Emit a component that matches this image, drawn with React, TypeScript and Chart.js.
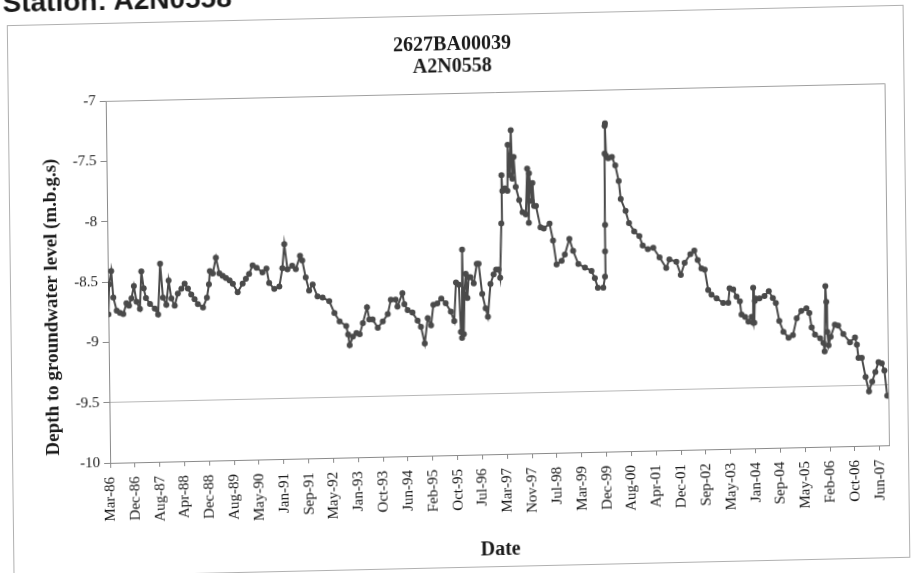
import React, { useEffect, useRef } from "react";
import { Chart, registerables } from "chart.js";

Chart.register(...registerables);

// ---- data (decimal years, depth in m.b.g.s) ----
const dates: number[] = [
  1986.23, 1986.26, 1986.32, 1986.37, 1986.46, 1986.55, 1986.64, 1986.73, 1986.80, 1986.87,
  1986.94, 1987.01, 1987.10, 1987.15, 1987.21, 1987.27, 1987.38, 1987.51, 1987.60, 1987.67,
  1987.74, 1987.83, 1987.90, 1987.97, 1988.06, 1988.15, 1988.25, 1988.34, 1988.43, 1988.52,
  1988.61, 1988.70, 1988.84, 1988.95, 1989.01, 1989.04, 1989.12, 1989.21, 1989.30, 1989.39,
  1989.48, 1989.58, 1989.67, 1989.80, 1989.94, 1990.03, 1990.12, 1990.22, 1990.33, 1990.49,
  1990.60, 1990.67, 1990.81, 1990.95, 1991.04, 1991.10, 1991.18, 1991.31, 1991.41, 1991.53,
  1991.59, 1991.68, 1991.77, 1991.87, 1992.00, 1992.14, 1992.32, 1992.46, 1992.60, 1992.78,
  1992.83, 1992.87, 1992.96, 1993.06, 1993.15, 1993.24, 1993.36, 1993.42, 1993.51, 1993.65,
  1993.79, 1993.93, 1994.02, 1994.15, 1994.20, 1994.34, 1994.39, 1994.48, 1994.61, 1994.75,
  1994.84, 1994.94, 1995.03, 1995.12, 1995.19, 1995.30, 1995.41, 1995.53, 1995.67, 1995.76,
  1995.82, 1995.90, 1995.94, 1995.97, 1996.00, 1996.02, 1996.05, 1996.09, 1996.13, 1996.17,
  1996.22, 1996.31, 1996.40, 1996.45, 1996.54, 1996.63, 1996.69, 1996.77, 1996.86, 1996.93,
  1997.00, 1997.04, 1997.09, 1997.11, 1997.13, 1997.20, 1997.27, 1997.29, 1997.34, 1997.38,
  1997.41, 1997.45, 1997.50, 1997.59, 1997.68, 1997.77, 1997.82, 1997.85, 1997.87, 1997.91,
  1997.93, 1997.96, 1998.00, 1998.05, 1998.17, 1998.26, 1998.42, 1998.51, 1998.60, 1998.74,
  1998.83, 1998.96, 1999.06, 1999.20, 1999.38, 1999.56, 1999.65, 1999.73, 1999.88, 1999.93,
  1999.94, 1999.95, 1999.96, 1999.97, 1999.98, 2000.00, 2000.06, 2000.16, 2000.25, 2000.34,
  2000.39, 2000.52, 2000.61, 2000.75, 2000.89, 2000.98, 2001.12, 2001.27, 2001.44, 2001.62,
  2001.71, 2001.90, 2002.02, 2002.13, 2002.29, 2002.40, 2002.49, 2002.59, 2002.68, 2002.77,
  2002.86, 2003.00, 2003.18, 2003.32, 2003.36, 2003.46, 2003.55, 2003.64, 2003.68, 2003.78,
  2003.87, 2003.96, 2004.00, 2004.01, 2004.03, 2004.05, 2004.07, 2004.18, 2004.32, 2004.44,
  2004.55, 2004.63, 2004.72, 2004.83, 2004.97, 2005.09, 2005.20, 2005.33, 2005.47, 2005.55,
  2005.61, 2005.70, 2005.84, 2005.93, 2005.96, 2006.00, 2006.02, 2006.04, 2006.07, 2006.13,
  2006.25, 2006.34, 2006.48, 2006.66, 2006.80, 2006.85, 2006.89, 2006.98, 2007.08, 2007.17,
  2007.26, 2007.35, 2007.44, 2007.53, 2007.60, 2007.67,
];

const levels: number[] = [
  -8.77, -8.52, -8.41, -8.63, -8.74, -8.76, -8.77, -8.68, -8.70, -8.64,
  -8.54, -8.67, -8.73, -8.42, -8.56, -8.64, -8.69, -8.73, -8.78, -8.36,
  -8.64, -8.70, -8.50, -8.65, -8.71, -8.61, -8.57, -8.53, -8.57, -8.62,
  -8.66, -8.70, -8.73, -8.65, -8.54, -8.43, -8.45, -8.32, -8.45, -8.47,
  -8.49, -8.51, -8.54, -8.61, -8.54, -8.50, -8.46, -8.39, -8.41, -8.45,
  -8.42, -8.54, -8.59, -8.57, -8.42, -8.22, -8.43, -8.40, -8.43, -8.32,
  -8.36, -8.50, -8.61, -8.56, -8.66, -8.67, -8.70, -8.80, -8.87, -8.91,
  -8.98, -9.07, -9.00, -8.97, -8.98, -8.89, -8.76, -8.86, -8.86, -8.93,
  -8.88, -8.82, -8.70, -8.70, -8.76, -8.65, -8.74, -8.79, -8.81, -8.88,
  -8.93, -9.07, -8.86, -8.92, -8.75, -8.74, -8.70, -8.74, -8.81, -8.89,
  -8.57, -8.59, -8.98, -9.03, -8.30, -9.00, -8.67, -8.50, -8.70, -8.53,
  -8.53, -8.58, -8.42, -8.42, -8.67, -8.79, -8.86, -8.59, -8.51, -8.47,
  -8.47, -8.54, -8.09, -7.69, -7.82, -7.80, -7.82, -7.44, -7.69, -7.32,
  -7.72, -7.54, -7.79, -7.90, -8.00, -8.02, -7.64, -8.09, -7.68, -7.80,
  -7.91, -7.76, -7.95, -7.95, -8.13, -8.14, -8.10, -8.24, -8.44, -8.41,
  -8.36, -8.23, -8.33, -8.44, -8.47, -8.50, -8.56, -8.64, -8.64, -8.55,
  -8.34, -8.12, -7.53, -7.30, -7.28, -7.55, -7.57, -7.56, -7.63, -7.76,
  -7.91, -8.01, -8.11, -8.18, -8.22, -8.30, -8.33, -8.32, -8.40, -8.49,
  -8.42, -8.44, -8.55, -8.45, -8.38, -8.35, -8.43, -8.50, -8.51, -8.68,
  -8.72, -8.75, -8.79, -8.79, -8.67, -8.68, -8.74, -8.78, -8.89, -8.91,
  -8.95, -8.91, -8.96, -8.67, -8.96, -8.78, -8.76, -8.76, -8.74, -8.70,
  -8.76, -8.80, -8.95, -9.04, -9.09, -9.07, -8.93, -8.87, -8.85, -8.89,
  -9.01, -9.07, -9.10, -9.14, -9.21, -8.67, -8.80, -9.05, -9.16, -9.09,
  -8.99, -9.00, -9.07, -9.14, -9.10, -9.16, -9.27, -9.27, -9.43, -9.55,
  -9.47, -9.39, -9.31, -9.32, -9.38, -9.59,
];

const tickLabels: string[] = [
  "Mar-86", "Dec-86", "Aug-87", "Apr-88", "Dec-88", "Aug-89", "May-90", "Jan-91",
  "Sep-91", "May-92", "Jan-93", "Oct-93", "Jun-94", "Feb-95", "Oct-95", "Jul-96",
  "Mar-97", "Nov-97", "Jul-98", "Mar-99", "Dec-99", "Aug-00", "Apr-01", "Dec-01",
  "Sep-02", "May-03", "Jan-04", "Sep-04", "May-05", "Feb-06", "Oct-06", "Jun-07",
];
const tickStart = 1986.227; // 25 Mar 1986
const tickStep = 250 / 365.25; // 250-day major unit
const xMax = 2007.7;

const titleLines: string[] = ["2627BA00039", "A2N0558"];
const yTitle = "Depth to groundwater level (m.b.g.s)";
const xTitle = "Date";
const pageHeading = "Station: A2N0558";

const SERIF = "'Liberation Serif', 'Times New Roman', serif";

const decorPlugin = {
  id: "decor",
  beforeDraw(chart: any) {
    const { ctx } = chart;
    ctx.save();
    ctx.fillStyle = "#ffffff";
    ctx.fillRect(0, 0, chart.width, chart.height);
    ctx.restore();
  },
  afterDraw(chart: any) {
    const { ctx, chartArea } = chart;
    ctx.save();
    // outer chart border
    ctx.strokeStyle = "#b0b0b0";
    ctx.lineWidth = 1;
    ctx.strokeRect(10.5, 15.5, 896, 552);
    // plot area border (top & right)
    ctx.strokeStyle = "#a0a0a0";
    ctx.beginPath();
    ctx.moveTo(chartArea.left, chartArea.top + 0.5);
    ctx.lineTo(chartArea.right + 0.5, chartArea.top + 0.5);
    ctx.lineTo(chartArea.right + 0.5, chartArea.bottom);
    ctx.stroke();
    // titles
    ctx.fillStyle = "#1a1a1a";
    ctx.textAlign = "center";
    ctx.textBaseline = "middle";
    ctx.font = "bold 20px " + SERIF;
    ctx.fillText(titleLines[0], 455, 45);
    ctx.fillText(titleLines[1], 455, 67);
    ctx.fillText(xTitle, (chartArea.left + chartArea.right) / 2, 551);
    ctx.translate(52, 298);
    ctx.rotate(-Math.PI / 2);
    ctx.font = "bold 19px " + SERIF;
    ctx.fillText(yTitle, 0, 0);
    ctx.restore();
  },
};

export default function App() {
  const canvasRef = useRef<HTMLCanvasElement | null>(null);

  useEffect(() => {
    const canvas = canvasRef.current;
    if (!canvas) return;
    const points = dates.map((d, i) => ({ x: d, y: levels[i] }));
    const chart = new Chart(canvas, {
      type: "line",
      data: {
        datasets: [
          {
            data: points,
            borderColor: "#4a4a4a",
            backgroundColor: "#4a4a4a",
            borderWidth: 2,
            pointRadius: 3,
            pointBorderWidth: 0,
            pointBackgroundColor: "#4a4a4a",
            tension: 0,
          },
        ],
      },
      options: {
        animation: false,
        responsive: false,
        devicePixelRatio: 1,
        layout: { padding: { left: 10, right: 27, top: 93, bottom: 10 } },
        plugins: {
          legend: { display: false },
          title: { display: false },
          tooltip: { enabled: false },
        },
        scales: {
          x: {
            type: "linear",
            min: tickStart,
            max: xMax,
            afterBuildTicks: (scale: any) => {
              scale.ticks = tickLabels.map((_, k) => ({ value: tickStart + k * tickStep }));
            },
            afterFit: (scale: any) => {
              scale.height = 108;
            },
            ticks: {
              autoSkip: false,
              minRotation: 90,
              maxRotation: 90,
              padding: 9,
              color: "#1a1a1a",
              font: { family: SERIF, size: 15 },
              callback: (_v: any, i: number) => tickLabels[i],
            },
            grid: {
              display: true,
              drawOnChartArea: false,
              drawTicks: true,
              tickLength: 5,
              tickColor: "#8a8a8a",
            },
            border: { display: true, color: "#8a8a8a", width: 1 },
          },
          y: {
            min: -10,
            max: -7,
            afterFit: (scale: any) => {
              scale.width = 98;
            },
            ticks: {
              stepSize: 0.5,
              padding: 4,
              color: "#1a1a1a",
              font: { family: SERIF, size: 15 },
              callback: (v: any) => String(v),
            },
            grid: {
              display: true,
              drawTicks: true,
              tickLength: 6,
              tickColor: "#8a8a8a",
              color: (c: any) => (c.tick && c.tick.value === -9.5 ? "#b8b8b8" : "rgba(0,0,0,0)"),
            },
            border: { display: true, color: "#8a8a8a", width: 1 },
          },
        },
      },
      plugins: [decorPlugin],
    } as any);
    return () => chart.destroy();
  }, []);

  return (
    <div
      style={{
        position: "fixed",
        left: 0,
        top: 0,
        width: 914,
        height: 573,
        overflow: "hidden",
        background: "#ffffff",
      }}
    >
      <div
        style={{
          position: "absolute",
          left: 0,
          top: 0,
          width: 914,
          height: 573,
          transform: "rotate(-1.3deg) skewX(-0.6deg)",
        }}
      >
        <canvas
          ref={canvasRef}
          width={914}
          height={573}
          style={{ position: "absolute", left: 0, top: 0, width: 914, height: 573 }}
        />
        <div
          style={{
            position: "absolute",
            left: 6,
            top: -21,
            fontFamily: "'Liberation Sans', Arial, sans-serif",
            fontWeight: "bold",
            fontSize: 28,
            lineHeight: "28px",
            color: "#1a1a1a",
            whiteSpace: "nowrap",
          }}
        >
          {pageHeading}
        </div>
      </div>
    </div>
  );
}
